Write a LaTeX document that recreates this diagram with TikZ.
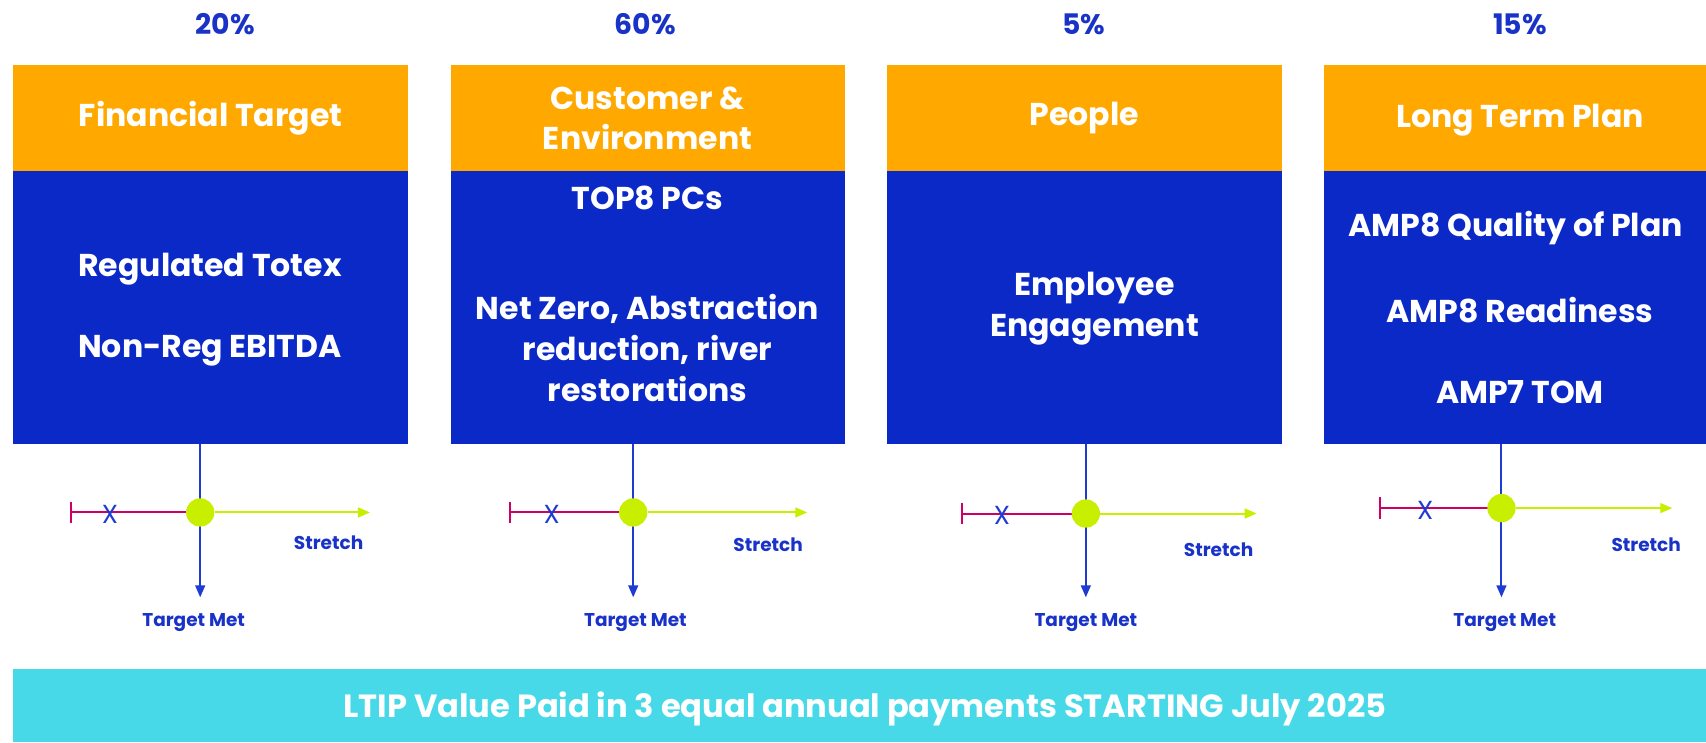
\documentclass[tikz,border=0pt]{standalone}
\usepackage{fontspec}
\setmainfont{Poppins}
\usetikzlibrary{arrows.meta}
\definecolor{boxblue}{RGB}{11,41,199}
\definecolor{hdr}{RGB}{255,168,0}
\definecolor{pctblue}{RGB}{25,50,200}
\definecolor{lineblue}{RGB}{30,60,210}
\definecolor{magline}{RGB}{204,0,102}
\definecolor{lime}{RGB}{200,238,0}
\definecolor{cyanbar}{RGB}{72,217,232}
\begin{document}
\begin{tikzpicture}[x=1pt,y=-1pt,
  pct/.style={text=pctblue,font=\fontsize{26}{30}\selectfont\bfseries},
  hdrbox/.style={fill=hdr,inner sep=0,anchor=north west,minimum height=97pt,text=white,align=center,
    font=\fontsize{29}{36}\selectfont\bfseries},
  bodybox/.style={fill=boxblue,inner sep=0,anchor=north west,minimum height=251pt},
  wtext/.style={text=white,align=center,font=\fontsize{29}{37.5}\selectfont\bfseries},
  lbl/.style={text=pctblue,font=\fontsize{17}{19}\selectfont\bfseries},
  dot/.style={circle,fill=lime,inner sep=0,minimum size=26pt},
  tip/.style={-{Triangle[length=11pt,width=9pt]}},
]
\useasboundingbox (0,0) rectangle (1568,682);
\fill[white] (0,0) rectangle (1568,682);

% percentages
\node[pct] (p1) at (207,22) {20\%};
\node[pct] (p2) at (593,22) {60\%};
\node[pct] (p3) at (996,22) {5\%};
\node[pct] (p4) at (1397,22) {15\%};

% headers
\node[hdrbox,minimum width=363pt] (h1) at (12,60) {Financial Target};
\node[hdrbox,minimum width=362pt] (h2) at (414,60) {Customer \&\\Environment};
\node[hdrbox,minimum width=363pt] (h3) at (815,60) {People};
\node[hdrbox,minimum width=351pt] (h4) at (1217,60) {};
\node[wtext] (h4t) at (1397,110) {Long Term Plan};

% bodies
\node[bodybox,minimum width=363pt] (b1) at (12,157) {};
\node[wtext] (b1a) at (193,247) {Regulated Totex};
\node[wtext] (b1b) at (193,322) {Non-Reg EBITDA};
\node[bodybox,minimum width=362pt] (b2) at (414,157) {};
\node[wtext] (b2a) at (595,182) {TOP8 PCs};
\node[wtext] (b2b) at (595,320) {Net Zero, Abstraction\\reduction, river\\restorations};
\node[bodybox,minimum width=363pt] (b3) at (815,157) {};
\node[wtext] (b3a) at (1006,284) {Employee\\Engagement};
\node[bodybox,minimum width=351pt] (b4) at (1217,157) {};
\node[wtext] (b4a) at (1393,210) {AMP8 Quality of Plan};
\node[wtext] (b4b) at (1397,285) {AMP8 Readiness};
\node[wtext] (b4c) at (1397,360) {AMP7 TOM};

% axes
\foreach \i/\cx/\cy/\lb/\xx/\ae/\sx/\sy/\tx in {
  1/184/471/65/101/340/302/499/178,
  2/582/471/469/507/742/706/501/584,
  3/998/472/884/921/1155/1120/505/998,
  4/1380/467/1268/1310/1537/1513/501/1383}{
  \coordinate (top\i) at (\cx,408);
  \coordinate (bot\i) at (\cx,549);
  \coordinate (lft\i) at (\lb,\cy);
  \coordinate (rgt\i) at (\ae,\cy);
  \draw[lineblue,line width=1.8pt,tip] (top\i) -- (bot\i);
  \draw[magline,line width=1.8pt] (lft\i) ++(0,-10) -- ++(0,20);
  \draw[magline,line width=1.8pt] (lft\i) -- (\cx,\cy);
  \node[dot] (c\i) at (\cx,\cy) {};
  \draw[lime,line width=1.8pt,tip] (c\i.east) -- (rgt\i);
  \node[text=lineblue,font=\fontsize{24}{26}\selectfont] (x\i) at (\xx,\cy+2) {X};
  \node[lbl] (s\i) at (\sx,\sy) {Stretch};
  \node[lbl] (t\i) at (\tx,572) {Target Met};
}

% bottom bar
\fill[cyanbar] (12,615) rectangle (1568,682);
\node[text=white,font=\fontsize{29.5}{32}\selectfont\bfseries] (bar) at (795,652) {LTIP Value Paid in 3 equal annual payments STARTING July 2025};
\end{tikzpicture}
\end{document}
